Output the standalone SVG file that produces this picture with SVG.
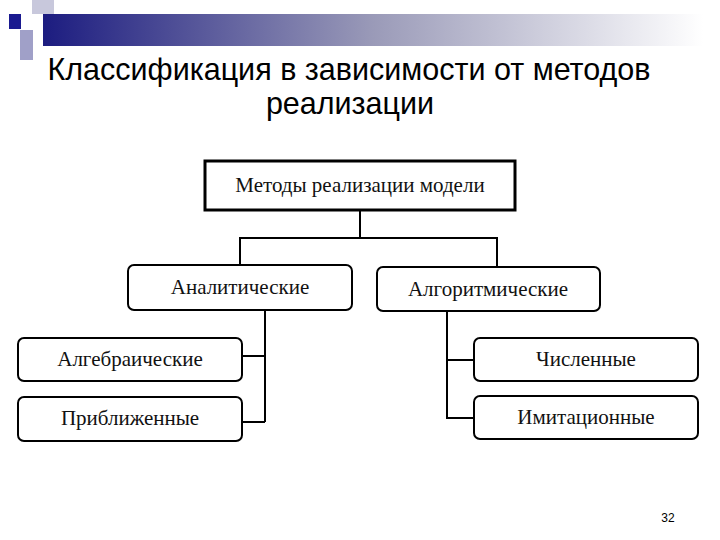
<svg xmlns="http://www.w3.org/2000/svg" width="720" height="540" viewBox="0 0 720 540">
<defs>
<linearGradient id="g" x1="0" x2="1" y1="0" y2="0">
<stop offset="0" stop-color="#1c1c80"/><stop offset="0.5" stop-color="#9a9ab8"/><stop offset="1" stop-color="#ffffff"/>
</linearGradient>
<style>
.b{fill:#fff;stroke:#000;stroke-width:2}
.t{font-family:"Liberation Serif",serif;font-size:21px;text-anchor:middle;fill:#111}
.c{fill:none;stroke:#000;stroke-width:2}
</style>
</defs>
<rect width="720" height="540" fill="#fff"/>
<g id="decor">
<rect x="43" y="14" width="660" height="32" fill="url(#g)"/>
<rect x="32" y="0" width="22" height="14" fill="#c8c8dc"/>
<rect x="20" y="30" width="13" height="30" fill="#a0a0c8"/>
<rect x="9" y="14" width="12" height="15" fill="#1a1a90"/>
</g>
<text x="349" y="80" font-family="Liberation Sans,Arial,sans-serif" font-size="30.5" text-anchor="middle">Классификация в зависимости от методов</text>
<text x="350" y="114" font-family="Liberation Sans,Arial,sans-serif" font-size="30.5" text-anchor="middle">реализации</text>
<g id="connectors">
<path class="c" d="M360 210V238M240 265V238H497V267"/>
<path class="c" d="M265 310V422M242 356H265M242 422H265"/>
<path class="c" d="M447 311V418H474M447 360H474"/>
</g>
<g id="root"><rect class="b" x="205" y="161" width="310" height="49" style="stroke-width:3"/><text class="t" x="360" y="192">Методы реализации модели</text></g>
<g id="analit"><rect class="b" x="128" y="265" width="224" height="45" rx="6"/><text class="t" x="240" y="294">Аналитические</text></g>
<g id="algor"><rect class="b" x="377" y="267" width="223" height="44" rx="6"/><text class="t" x="488" y="296">Алгоритмические</text></g>
<g id="algeb"><rect class="b" x="18" y="338" width="224" height="43" rx="6"/><text class="t" x="130" y="366">Алгебраические</text></g>
<g id="approx"><rect class="b" x="18" y="397" width="224" height="44" rx="6"/><text class="t" x="130" y="425">Приближенные</text></g>
<g id="num"><rect class="b" x="474" y="338" width="224" height="43" rx="6"/><text class="t" x="586" y="366">Численные</text></g>
<g id="imit"><rect class="b" x="474" y="396" width="224" height="43" rx="6"/><text class="t" x="586" y="424">Имитационные</text></g>
<text x="668" y="522" font-family="Liberation Sans,Arial,sans-serif" font-size="12" text-anchor="middle">32</text>
</svg>
